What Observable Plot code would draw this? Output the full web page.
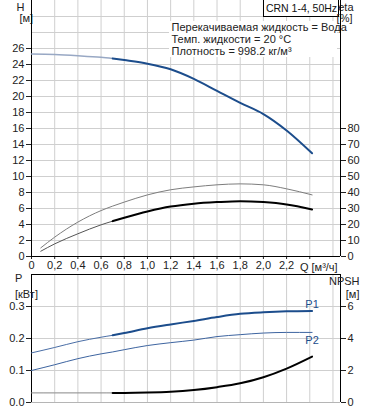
<!DOCTYPE html>
<html>
<head>
<meta charset="utf-8">
<script src="https://cdn.jsdelivr.net/npm/d3@7"></script>
<script src="https://cdn.jsdelivr.net/npm/@observablehq/plot@0.6"></script>
<style>
  html, body { margin: 0; padding: 0; background: #fff; }
  #chart { width: 378px; height: 410px; overflow: hidden; }
  #chart svg { display: block; }
</style>
</head>
<body>
<div id="chart"></div>
<script>
// ---- Data ----
const flow = [0, 0.2, 0.4, 0.6, 0.7, 0.8, 1.0, 1.2, 1.4, 1.6, 1.8, 2.0, 2.2, 2.42];
const head = [25.3, 25.25, 25.1, 24.9, 24.75, 24.55, 24.1, 23.4, 22.2, 20.7, 19.2, 17.8, 15.75, 12.9];

const etaFlow = [0.08, 0.2, 0.4, 0.6, 0.7, 0.8, 1.0, 1.2, 1.4, 1.6, 1.8, 2.0, 2.2, 2.42];
const etaPump = [5.4, 12.1, 21.5, 28.7, 31.5, 34.0, 38.5, 41.7, 43.5, 44.8, 45.4, 44.8, 42.3, 38.5];
const etaTotal = [3.3, 7.9, 14.2, 19.8, 22.1, 24.2, 28.1, 31.2, 33.0, 34.0, 34.6, 34.0, 32.5, 29.4];

const powerP1 = [0.155, 0.172, 0.190, 0.204, 0.210, 0.217, 0.232, 0.244, 0.255, 0.267, 0.277, 0.282, 0.285, 0.286];
const powerP2 = [0.100, 0.118, 0.137, 0.152, 0.158, 0.165, 0.178, 0.187, 0.195, 0.206, 0.212, 0.217, 0.219, 0.219];
const npsh = [0.6, 0.6, 0.6, 0.6, 0.6, 0.6, 0.62, 0.67, 0.78, 0.96, 1.2, 1.58, 2.12, 2.87];

const qTicks = [0, 0.2, 0.4, 0.6, 0.8, 1.0, 1.2, 1.4, 1.6, 1.8, 2.0, 2.2, 2.4];
const qTickLabels = ["0", "0,2", "0,4", "0,6", "0,8", "1,0", "1,2", "1,4", "1,6", "1,8", "2,0", "2,2", ""];
const qGrid = [0, 0.2, 0.4, 0.6, 0.8, 1.0, 1.2, 1.4, 1.6, 1.8, 2.0, 2.2, 2.4, 2.6];
const hTicks = [0, 2, 4, 6, 8, 10, 12, 14, 16, 18, 20, 22, 24, 26];
const hGrid = [2, 4, 6, 8, 10, 12, 14, 16, 18, 20, 22, 24, 26, 28, 30];
const etaTicks = [0, 10, 20, 30, 40, 50, 60, 70, 80];
const pTicks = [0, 0.1, 0.2, 0.3];
const pTickLabels = ["0.0", "0.1", "0.2", "0.3"];
const npshTicks = [0, 2, 4, 6];

const infoLines = ["Перекачиваемая жидкость = Вода", "Темп. жидкости = 20 °C", "Плотность = 998.2 кг/м³"];
const modelLabel = "CRN 1-4, 50Hz";

// ---- Tables ----
const startThick = 0.7;
const hRows = flow.map((q, i) => ({q, v: head[i]}));
const etaRows = etaFlow.map((q, i) => ({q, pump: etaPump[i] / 5, total: etaTotal[i] / 5}));
const pRows = flow.map((q, i) => ({q, p1: powerP1[i], p2: powerP2[i], n: npsh[i] / 20}));
const thin = rows => rows.filter(d => d.q <= startThick);
const thick = rows => rows.filter(d => d.q >= startThick);

const BLUE = "#1c4d8c";
const LIGHTBLUE = "#98a8c4";
const GRID = "#cfcfcf";
const FONT = "'Liberation Sans', Arial, sans-serif";
const W = 378, ML = 31, MR = 38;
const xDomain = [0, 2.665];

const rectMark = (x, y, w, h, fill, stroke) => () => {
  const r = document.createElementNS("http://www.w3.org/2000/svg", "rect");
  r.setAttribute("x", x); r.setAttribute("y", y);
  r.setAttribute("width", w); r.setAttribute("height", h);
  r.setAttribute("fill", fill);
  r.setAttribute("stroke", stroke || "none");
  return r;
};

const label = (t, anchor, dx, dy, extra = {}) =>
  Plot.text([t], {frameAnchor: anchor, text: d => d, dx, dy, lineAnchor: "middle", ...extra});

const topChart = Plot.plot({
  width: W, height: 273,
  marginLeft: ML, marginRight: MR, marginTop: 0, marginBottom: 17,
  x: {domain: xDomain, axis: null},
  y: {domain: [0, 32], axis: null},
  style: {fontFamily: FONT, fontSize: "11px", color: "#222", background: "#fff", overflow: "visible"},
  marks: [
    Plot.gridX(qGrid, {stroke: GRID, strokeOpacity: 1}),
    Plot.gridY(hGrid, {stroke: GRID, strokeOpacity: 1}),
    rectMark(169, 21, 168, 36, "#fff"),
    rectMark(263.5, -1, 75, 17.5, "#fff", "#000"),
    label(modelLabel, "top-left", 270, 8, {textAnchor: "middle", fill: "#111", fontSize: 10.5}),
    label(infoLines[0], "top-left", 140, 27, {textAnchor: "start"}),
    label(infoLines[1], "top-left", 140, 39, {textAnchor: "start"}),
    label(infoLines[2], "top-left", 140, 51, {textAnchor: "start"}),
    Plot.axisY(hTicks, {anchor: "left", tickSize: 5, tickPadding: 2, label: null, tickFormat: d => String(d)}),
    Plot.axisY(etaTicks.map(e => e / 5), {anchor: "right", tickSize: 5, tickPadding: 2, label: null, tickFormat: d => String(Math.round(d * 5))}),
    Plot.axisX(qTicks, {anchor: "bottom", tickSize: 3, tickPadding: 2, label: null, tickFormat: d => qTickLabels[qTicks.indexOf(d)]}),
    Plot.text(["Q [м³/ч]"], {x: 2.4, frameAnchor: "bottom", text: d => d, dx: 9, dy: 11, lineAnchor: "middle"}),
    label("H", "top-left", -15, 7),
    label("[м]", "top-left", -12, 18),
    label("eta", "top-right", 13, 7),
    label("[%]", "top-right", 12, 18),
    Plot.ruleX([0, xDomain[1]], {stroke: "#000"}),
    Plot.ruleY([0], {stroke: "#000"}),
    Plot.line(etaRows, {x: "q", y: "pump", stroke: "#7d7d7d", strokeWidth: 1, curve: "monotone-x"}),
    Plot.line(thin(etaRows), {x: "q", y: "total", stroke: "#555", strokeWidth: 1, curve: "monotone-x"}),
    Plot.line(thick(etaRows), {x: "q", y: "total", stroke: "#000", strokeWidth: 2, curve: "monotone-x"}),
    Plot.line(thin(hRows), {x: "q", y: "v", stroke: LIGHTBLUE, strokeWidth: 1.5, curve: "monotone-x"}),
    Plot.line(thick(hRows), {x: "q", y: "v", stroke: BLUE, strokeWidth: 2, curve: "monotone-x"})
  ]
});

const bottomChart = Plot.plot({
  width: W, height: 137,
  marginLeft: ML, marginRight: MR, marginTop: 1, marginBottom: 8,
  x: {domain: xDomain, axis: null},
  y: {domain: [0, 0.4], axis: null},
  style: {fontFamily: FONT, fontSize: "11px", color: "#222", background: "#fff", overflow: "visible"},
  marks: [
    Plot.gridX(qGrid, {stroke: GRID, strokeOpacity: 1}),
    Plot.gridY([0.1, 0.2, 0.3], {stroke: GRID, strokeOpacity: 1}),
    Plot.axisY(pTicks, {anchor: "left", tickSize: 5, tickPadding: 2, label: null, tickFormat: d => pTickLabels[pTicks.indexOf(d)]}),
    Plot.axisY(npshTicks.map(n => n / 20), {anchor: "right", tickSize: 5, tickPadding: 2, label: null, tickFormat: d => String(Math.round(d * 20))}),
    Plot.ruleY([0], {stroke: "#b5b5b5"}),
    Plot.ruleY([0.4], {stroke: "#000"}),
    Plot.ruleX([0, xDomain[1]], {stroke: "#000"}),
    label("P", "top-left", -16.5, 4),
    label("[кВт]", "top-left", -16.5, 20),
    label("NPSH", "top-right", 19, 7),
    label("[м]", "top-right", 19, 20),
    Plot.line(pRows, {x: "q", y: "p2", stroke: "#3d64a0", strokeWidth: 1, curve: "monotone-x"}),
    Plot.line(thin(pRows), {x: "q", y: "p1", stroke: "#4a6ea6", strokeWidth: 1, curve: "monotone-x"}),
    Plot.line(thick(pRows), {x: "q", y: "p1", stroke: BLUE, strokeWidth: 2, curve: "monotone-x"}),
    Plot.line(thin(pRows), {x: "q", y: "n", stroke: "#888", strokeWidth: 1, curve: "monotone-x"}),
    Plot.line(thick(pRows), {x: "q", y: "n", stroke: "#000", strokeWidth: 2, curve: "monotone-x"}),
    Plot.text(pRows.slice(-1), {x: "q", y: "p1", text: () => "P1", dy: -7, fill: BLUE, lineAnchor: "middle"}),
    Plot.text(pRows.slice(-1), {x: "q", y: "p2", text: () => "P2", dy: 8, fill: BLUE, lineAnchor: "middle"})
  ]
});

const host = document.getElementById("chart");
host.appendChild(topChart);
host.appendChild(bottomChart);
</script>
</body>
</html>
